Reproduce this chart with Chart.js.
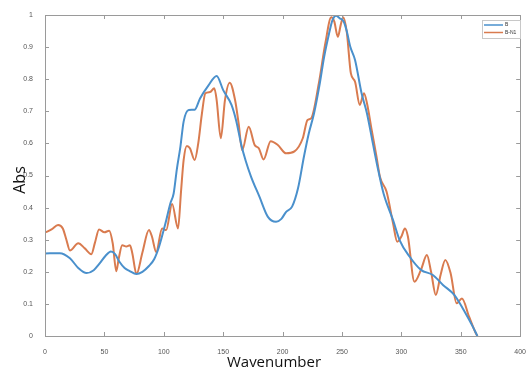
<!DOCTYPE html>
<html>
<head>
<meta charset="utf-8">
<script src="https://cdn.jsdelivr.net/npm/chart.js@4/dist/chart.umd.min.js"></script>
<style>
html,body{margin:0;padding:0;background:#fff;}
#wrap{width:530px;height:370px;}
</style>
</head>
<body>
<div id="wrap"><canvas id="c" width="530" height="370"></canvas></div>
<script>
// Series B
const bWave = [0,12.5,21,28,35,41,46,51,55.5,59,62.5,67,71,77,82,87.5,92,96,101.4,105.5,108.3,111,114,116.7,121,126,130.5,137.5,144.5,150,157,161,165,169,173.5,180.5,187.5,194.5,199,203,208,213,218,222,226.5,231,235,239,242,245,248,251.5,254,257,261,266.5,271,276,280.5,285,293,298.5,307,316.5,326.5,335,344.5,354,360,364];
const bAbs  = [0.257,0.258,0.242,0.212,0.196,0.205,0.226,0.25,0.263,0.255,0.232,0.212,0.203,0.193,0.2,0.218,0.24,0.278,0.351,0.413,0.444,0.52,0.59,0.668,0.704,0.705,0.74,0.78,0.81,0.766,0.72,0.67,0.6,0.545,0.496,0.434,0.372,0.356,0.365,0.387,0.403,0.46,0.559,0.63,0.694,0.78,0.87,0.94,0.984,0.998,0.99,0.979,0.95,0.901,0.86,0.756,0.694,0.6,0.517,0.444,0.361,0.299,0.247,0.206,0.19,0.159,0.128,0.071,0.03,0];
// Series B-N1
const nWave = [0,5.5,11,15,18,21,28,33.5,39,42,45.5,50,54,57,60,62,65,68.5,71.5,73.5,77,82,87.5,90,93.6,98.6,102,107,112,114.5,116.7,119.4,122,126,129,132,135,139,142.5,144.5,148,151.5,155.5,160,163,166,171.5,176.5,180,184,190,196,203,210,217,221,224,230.5,236,241,243.5,246.5,249,251,254,257.5,261,265,268.5,271,275,279,282,287.5,293,296.5,300,303,305.5,311,316.5,321.5,325,329,333,337,341.5,346.5,351,357,362.5,364];
const nAbs  = [0.322,0.332,0.346,0.335,0.3,0.266,0.289,0.273,0.255,0.29,0.332,0.323,0.328,0.289,0.202,0.24,0.283,0.279,0.283,0.258,0.193,0.26,0.33,0.31,0.262,0.335,0.33,0.411,0.335,0.45,0.548,0.592,0.585,0.548,0.6,0.69,0.756,0.76,0.772,0.735,0.616,0.735,0.789,0.735,0.662,0.579,0.652,0.595,0.585,0.55,0.607,0.595,0.569,0.575,0.616,0.673,0.678,0.787,0.912,0.993,0.98,0.932,0.97,0.993,0.948,0.818,0.792,0.72,0.756,0.726,0.642,0.56,0.495,0.45,0.351,0.294,0.31,0.335,0.31,0.169,0.206,0.252,0.2,0.128,0.19,0.237,0.195,0.102,0.117,0.06,0.01,0];

const seriesLabels = ['B','B-N1'];
const seriesColors = ['#4a90cc','#d97b4f'];
const xTitle = 'Wavenumber';
const yTitle = 'Abs';

function pts(xs, ys){ return xs.map((x,i)=>({x:x,y:ys[i]})); }

const framePlugin = {
  id:'frame',
  afterDraw(chart){
    const ctx = chart.ctx, a = chart.chartArea;
    const xs = chart.scales.x, ys = chart.scales.y;
    ctx.save();
    ctx.strokeStyle = '#9a9a9a';
    ctx.lineWidth = 1;
    ctx.strokeRect(Math.round(a.left)+0.5, Math.round(a.top)+0.5, Math.round(a.right-a.left), Math.round(a.bottom-a.top));
    ctx.beginPath();
    xs.ticks.forEach(t=>{
      const p = Math.round(xs.getPixelForValue(t.value))+0.5;
      ctx.moveTo(p,a.bottom); ctx.lineTo(p,a.bottom-4);
      ctx.moveTo(p,a.top); ctx.lineTo(p,a.top+4);
    });
    ys.ticks.forEach(t=>{
      const p = Math.round(ys.getPixelForValue(t.value))+0.5;
      ctx.moveTo(a.left,p); ctx.lineTo(a.left+4,p);
      ctx.moveTo(a.right,p); ctx.lineTo(a.right-4,p);
    });
    ctx.stroke();
    // axis titles
    ctx.fillStyle = '#111';
    ctx.font = '15px "Open Sans"';
    ctx.textAlign = 'center';
    ctx.textBaseline = 'alphabetic';
    ctx.fillText(xTitle, 274, 367);
    ctx.save();
    ctx.font = '16px "Open Sans"';
    ctx.translate(25, 180);
    ctx.rotate(-Math.PI/2);
    ctx.fillText(yTitle, 0, 0);
    ctx.restore();
    // legend
    const lx = 482, ly = 20, lw = 38, lh = 18;
    ctx.fillStyle = '#fff';
    ctx.fillRect(lx,ly,lw,lh);
    ctx.strokeStyle = '#c8c8c8';
    ctx.strokeRect(lx+0.5,ly+0.5,lw,lh);
    ctx.font = '5px "Liberation Sans"';
    ctx.textAlign = 'left';
    ctx.textBaseline = 'middle';
    chart.data.datasets.forEach((d,i)=>{
      const yy = ly + 5 + i*7.5;
      ctx.strokeStyle = d.borderColor;
      ctx.lineWidth = 1.5;
      ctx.beginPath(); ctx.moveTo(lx+2,yy); ctx.lineTo(lx+21,yy); ctx.stroke();
      ctx.fillStyle = '#333';
      ctx.fillText(d.label, lx+23, yy);
    });
    ctx.restore();
  }
};

new Chart(document.getElementById('c'), {
  type:'line',
  data:{
    datasets:[
      {label:seriesLabels[0], data:pts(bWave,bAbs), borderColor:seriesColors[0], borderWidth:2, pointRadius:0, cubicInterpolationMode:'monotone', fill:false},
      {label:seriesLabels[1], data:pts(nWave,nAbs), borderColor:seriesColors[1], borderWidth:2, pointRadius:0, cubicInterpolationMode:'monotone', fill:false}
    ]
  },
  options:{
    responsive:false,
    animation:false,
    layout:{padding:{top:15,right:6,left:0,bottom:0}},
    plugins:{legend:{display:false}, tooltip:{enabled:false}},
    scales:{
      x:{type:'linear', min:0, max:400,
         afterFit(s){ s.height = 34; },
         grid:{display:false}, border:{display:false},
         ticks:{stepSize:50, padding:4, color:'#555', font:{family:'Liberation Sans', size:7}, maxRotation:0}},
      y:{type:'linear', min:0, max:1,
         afterFit(s){ s.width = 45; },
         grid:{display:false}, border:{display:false},
         ticks:{stepSize:0.1, padding:4, color:'#555', font:{family:'Liberation Sans', size:7},
                callback:v=>String(Number(v.toFixed(1)))}}
    }
  },
  plugins:[framePlugin]
});
</script>
</body>
</html>
